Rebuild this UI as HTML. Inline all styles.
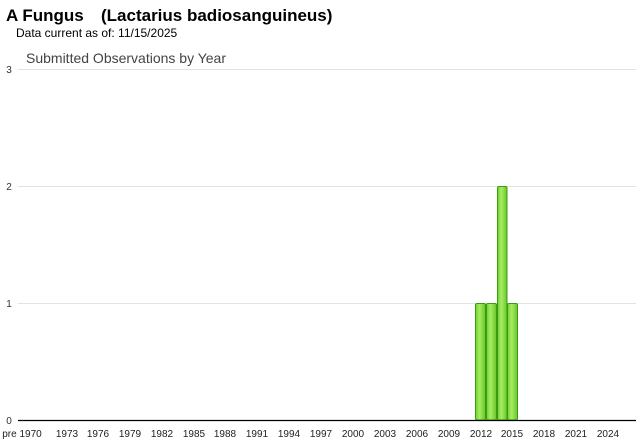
<!DOCTYPE html>
<html><head><style>
body{margin:0;background:#fff;width:640px;height:442px;overflow:hidden;font-family:"Liberation Sans",Arial,sans-serif}
</style></head><body>
<svg width="640" height="442" xmlns="http://www.w3.org/2000/svg" font-family="Liberation Sans, Arial, sans-serif">
<defs><linearGradient id="g" x1="0" x2="1"><stop offset="0" stop-color="#6fd12a"/><stop offset="0.4" stop-color="#a8ec66"/><stop offset="1" stop-color="#66c826"/></linearGradient></defs>
<text x="6" y="21" font-size="17" font-weight="bold" fill="#000">A Fungus<tspan x="101">(Lactarius badiosanguineus)</tspan></text>
<text x="16" y="37" font-size="12" fill="#000">Data current as of: 11/15/2025</text>
<text x="26" y="63" font-size="14" fill="#444">Submitted Observations by Year</text>
<g stroke="#e3e3e3" stroke-width="1">
<line x1="18" y1="69.5" x2="636" y2="69.5"/><line x1="18" y1="186.5" x2="636" y2="186.5"/><line x1="18" y1="303.5" x2="636" y2="303.5"/>
</g>
<g font-size="10" fill="#333" text-anchor="middle">
<text x="9" y="73">3</text><text x="9" y="190">2</text><text x="9" y="307">1</text><text x="9" y="424">0</text>
</g>
<g stroke="#3a9a10" stroke-width="1" fill="url(#g)">
<rect x="475.5" y="303.5" width="10" height="116.5" rx="1.5"/>
<rect x="486.5" y="303.5" width="10" height="116.5" rx="1.5"/>
<rect x="497.5" y="186.5" width="9.5" height="233.5" rx="1.5"/>
<rect x="507.5" y="303.5" width="10" height="116.5" rx="1.5"/>
</g>
<line x1="18" y1="420.5" x2="636" y2="420.5" stroke="#000" stroke-width="1.3"/>
<g font-size="10" fill="#222" text-anchor="middle">
<text x="22" y="437">pre 1970</text>
<text x="67" y="437">1973</text><text x="98" y="437">1976</text><text x="130" y="437">1979</text><text x="162" y="437">1982</text><text x="194" y="437">1985</text><text x="225" y="437">1988</text><text x="257" y="437">1991</text><text x="289" y="437">1994</text><text x="321" y="437">1997</text><text x="353" y="437">2000</text><text x="385" y="437">2003</text><text x="417" y="437">2006</text><text x="449" y="437">2009</text><text x="481" y="437">2012</text><text x="512" y="437">2015</text><text x="544" y="437">2018</text><text x="576" y="437">2021</text><text x="608" y="437">2024</text>
</g>
</svg>
</body></html>
